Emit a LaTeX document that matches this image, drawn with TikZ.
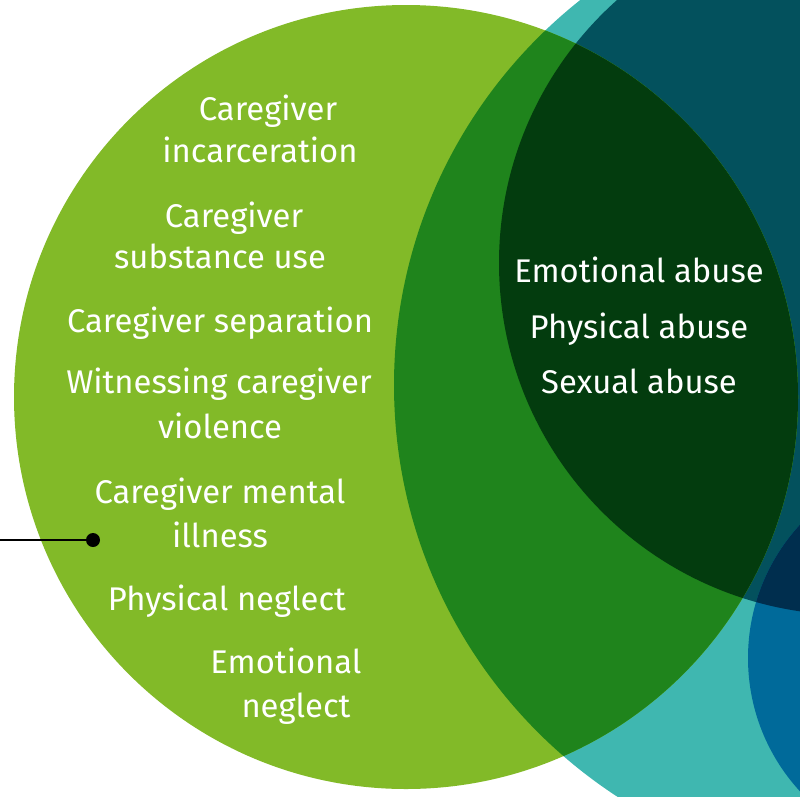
\documentclass[tikz,border=0pt]{standalone}
\usepackage{fontspec}
\setmainfont{Fira Sans}
\definecolor{lgreen}{HTML}{82BA28}
\definecolor{tealc}{HTML}{3FB7B0}
\definecolor{dteal}{HTML}{03515D}
\definecolor{bluec}{HTML}{006A9A}
\definecolor{navyc}{HTML}{002E4E}
\definecolor{mgreen}{HTML}{1F841C}
\definecolor{vdgreen}{HTML}{033C0E}
\tikzset{
  lbl/.style={text=white, inner sep=0pt, anchor=base, font=\fontsize{32.8}{38}\selectfont},
}
\begin{document}
\begin{tikzpicture}[x=1pt,y=-1pt]
\useasboundingbox (0,0) rectangle (800,796);
\begin{scope}
  \clip (0,0) rectangle (800,796);
  \fill[tealc] (885,385) circle (491pt);
  \fill[dteal] (851,263) circle (352pt);
  \fill[bluec] (945,658) circle (197pt);
  \begin{scope}
    \clip (945,658) circle (197pt);
    \fill[navyc] (851,263) circle (352pt);
  \end{scope}
  \fill[lgreen] (406,397) circle (392pt);
  \begin{scope}
    \clip (406,397) circle (392pt);
    \fill[mgreen] (885,385) circle (491pt);
    \fill[vdgreen] (851,263) circle (352pt);
  \end{scope}
\end{scope}
% left labels
\node[lbl] (a1) at (268,120) {Caregiver};
\node[lbl] (a2) at (260,162) {incarceration};
\node[lbl] (b1) at (234,227) {Caregiver};
\node[lbl] (b2) at (220,268) {substance use};
\node[lbl] (c1) at (220,332) {Caregiver separation};
\node[lbl] (d1) at (219,393) {Witnessing caregiver};
\node[lbl] (d2) at (220,438) {violence};
\node[lbl] (e1) at (220,503) {Caregiver mental};
\node[lbl] (e2) at (220,547) {illness};
\node[lbl] (f1) at (227,610) {Physical neglect};
\node[lbl] (g1) at (286,673) {Emotional};
\node[lbl] (g2) at (296,717) {neglect};
% right labels
\node[lbl] (h1) at (639,282) {Emotional abuse};
\node[lbl] (h2) at (639,338) {Physical abuse};
\node[lbl] (h3) at (639,393) {Sexual abuse};
% pointer
\coordinate (lstart) at (0,540);
\node[circle, fill=black, minimum size=14pt, inner sep=0pt] (dot) at (93,540) {};
\draw[line width=1.5pt] (lstart) -- (dot.center);
\end{tikzpicture}
\end{document}
